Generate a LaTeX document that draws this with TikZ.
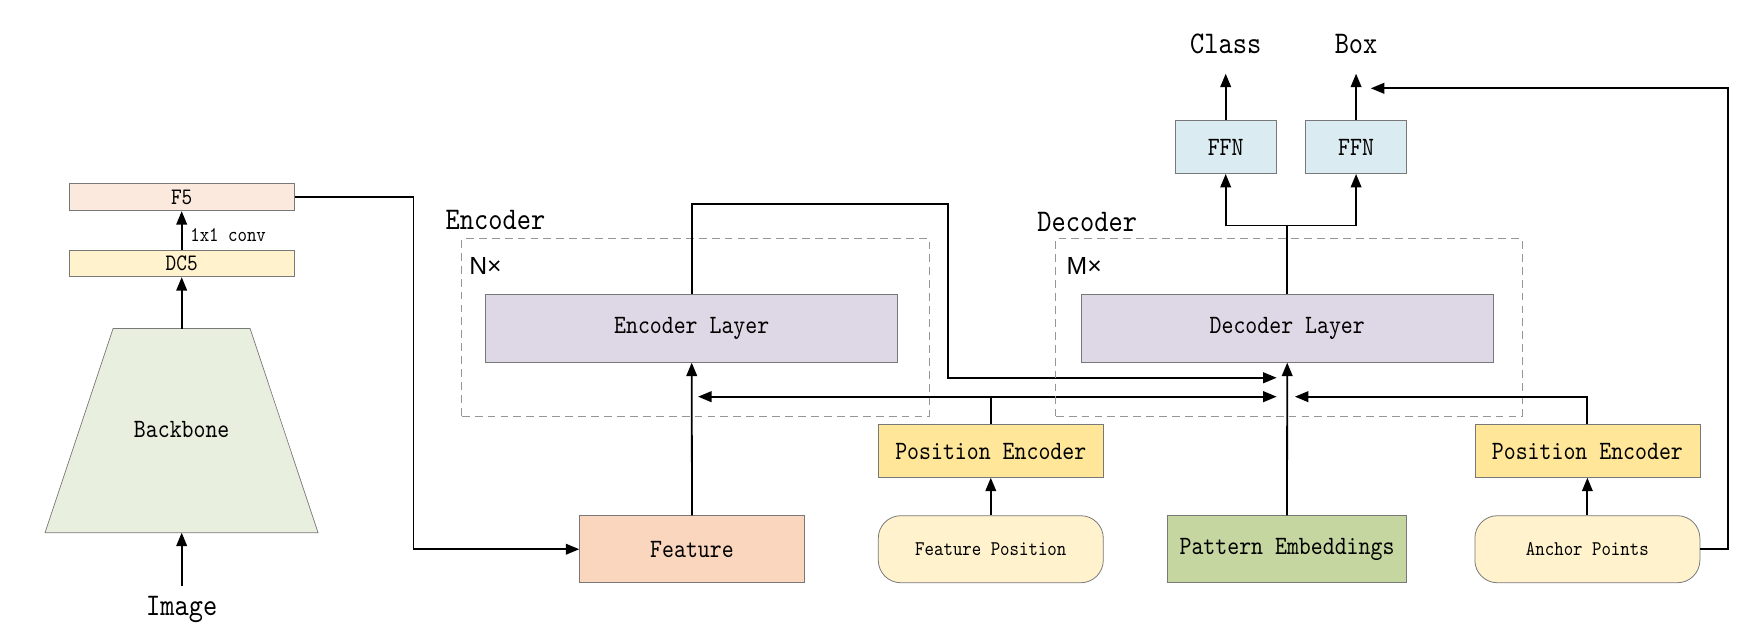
\documentclass[tikz,border=0pt]{standalone}
\usepackage{fontspec}
\usetikzlibrary{arrows.meta}
\newfontfamily\lab{lmmono10-regular.otf}[FakeStretch=0.86]
\newfontfamily\sanslab{Liberation Sans}
\newcommand{\fsz}[1]{\fontsize{#1}{#1}\selectfont}
\definecolor{cF}{RGB}{252,233,222}
\definecolor{cDC}{RGB}{255,242,204}
\definecolor{cBB}{RGB}{233,239,223}
\definecolor{cLay}{RGB}{222,216,230}
\definecolor{cFeat}{RGB}{249,214,189}
\definecolor{cPE}{RGB}{255,230,153}
\definecolor{cIn}{RGB}{255,242,204}
\definecolor{cPat}{RGB}{197,214,160}
\definecolor{cFFN}{RGB}{219,235,242}
\definecolor{cBord}{RGB}{120,120,120}
\definecolor{cDash}{RGB}{150,150,150}
\tikzset{
  blk/.style={draw=cBord, line width=0.7pt, inner sep=0pt, font=\lab\fsz{23.5}},
  rblk/.style={blk, rounded corners=20pt},
  arr/.style={line width=1.6pt, -{Triangle[length=12pt,width=9.5pt]}},
  ln/.style={line width=1.6pt},
  dbox/.style={draw=cDash, line width=0.9pt, dash pattern=on 7pt off 4.5pt, inner sep=0pt},
  txt/.style={inner sep=0pt, font=\lab\fsz{28}},
  smalltxt/.style={inner sep=0pt, font=\lab\fsz{18.6}},
}
\begin{document}
\begin{tikzpicture}[x=1pt, y=-1pt]
\useasboundingbox (0,0) rectangle (1568,569);

% Backbone
\draw[draw=cBord, line width=0.6pt, fill=cBB] (100.5,292) -- (222.3,292) -- (282.7,473.5) -- (40,473.5) -- cycle;
\node[inner sep=0pt, font=\lab\fsz{23.5}] (bb) at (161.5,382) {Backbone};
\coordinate (bbtop) at (161.5,292);
\coordinate (bbbot) at (161.5,473.5);
\node[txt] (img) at (161.5,542) {Image};
\coordinate (imgtop) at (161.5,521);
\draw[arr] (imgtop) -- (bbbot);

\node[blk, fill=cDC, minimum width=200pt, minimum height=23.8pt, font=\lab\fsz{21}] (dc5) at (161.5,234.1) {DC5};
\node[blk, fill=cF, minimum width=200pt, minimum height=24.3pt, font=\lab\fsz{21}] (f5) at (161.5,175.2) {F5};
\draw[arr] (bbtop) -- (dc5.south);
\draw[arr] (dc5.north) -- (f5.south);
\node[smalltxt, anchor=west] (conv) at (169,209) {1x1 conv};

% Encoder
\node[dbox, minimum width=415.4pt, minimum height=157.4pt] (encbox) at (618.1,291.1) {};
\node[txt, anchor=west] (enclab) at (396,195.6) {Encoder};
\node[inner sep=0pt, font=\sanslab\fsz{22}, anchor=west] (nx) at (417,236) {N×};
\node[blk, fill=cLay, minimum width=366.3pt, minimum height=60.4pt] (enc) at (614.85,291.8) {Encoder Layer};
\node[blk, fill=cFeat, minimum width=199.7pt, minimum height=59.6pt] (feat) at (615.1,488.2) {Feature};

\coordinate (c1) at (367.5,175.2);
\draw[arr] (f5.east) -- (c1) |- (feat.west);
\draw[arr] (feat.north) -- (enc.south);

% Position encoder 1
\node[blk, fill=cPE, minimum width=200pt, minimum height=46.8pt] (pe1) at (880.7,400.9) {Position Encoder};
\node[rblk, fill=cIn, minimum width=200pt, minimum height=59.6pt, font=\lab\fsz{18.6}] (fp) at (880.7,488.2) {Feature Position};
\draw[arr] (fp.north) -- (pe1.south);
\coordinate (j1) at (880.7,352.6);
\coordinate (tipL) at (620.5,352.6);
\coordinate (tipR) at (1134.8,352.6);
\draw[ln] (pe1.north) -- (j1);
\draw[arr] (j1) -- (tipL);
\draw[arr] (j1) -- (tipR);

% Encoder output to decoder
\coordinate (e1) at (614.85,181);
\coordinate (e2) at (842.3,181);
\coordinate (e3) at (842.3,335.8);
\coordinate (tipE) at (1134.8,335.8);
\draw[arr] (enc.north) -- (e1) -- (e2) -- (e3) -- (tipE);

% Decoder
\node[dbox, minimum width=414.8pt, minimum height=157.4pt] (decbox) at (1145.8,291.1) {};
\node[txt, anchor=west] (declab) at (922,197) {Decoder};
\node[inner sep=0pt, font=\sanslab\fsz{22}, anchor=west] (mx) at (948,236) {M×};
\node[blk, fill=cLay, minimum width=366.5pt, minimum height=60.4pt] (dec) at (1144.2,291.8) {Decoder Layer};
\node[blk, fill=cPat, minimum width=212pt, minimum height=59.6pt] (pat) at (1144,488.2) {Pattern Embeddings};
\draw[arr] (pat.north) -- (dec.south);

% Position encoder 2
\node[blk, fill=cPE, minimum width=200pt, minimum height=46.8pt] (pe2) at (1411,400.9) {Position Encoder};
\node[rblk, fill=cIn, minimum width=200pt, minimum height=59.6pt, font=\lab\fsz{18.6}] (ap) at (1411,488.2) {Anchor Points};
\draw[arr] (ap.north) -- (pe2.south);
\coordinate (tipP2) at (1151,352.6);
\draw[arr] (pe2.north) |- (tipP2);

% FFN heads
\node[blk, fill=cFFN, minimum width=89.8pt, minimum height=47pt] (ffn1) at (1089.5,130.8) {FFN};
\node[blk, fill=cFFN, minimum width=89.5pt, minimum height=47pt] (ffn2) at (1205.4,130.8) {FFN};
\coordinate (br) at (1144.2,200.5);
\draw[ln] (dec.north) -- (br);
\draw[arr] (br) -| (ffn1.south);
\draw[arr] (br) -| (ffn2.south);
\node[txt] (cls) at (1089.5,39) {Class};
\node[txt] (box) at (1205.4,39) {Box};
\coordinate (clstip) at (1089.5,65.5);
\coordinate (boxtip) at (1205.4,65.5);
\draw[arr] (ffn1.north) -- (clstip);
\draw[arr] (ffn2.north) -- (boxtip);

% Anchor points feedback to Box
\coordinate (a1) at (1535.8,488.2);
\coordinate (tipB) at (1218.5,78.5);
\draw[arr] (ap.east) -- (a1) |- (tipB);
\end{tikzpicture}
\end{document}
